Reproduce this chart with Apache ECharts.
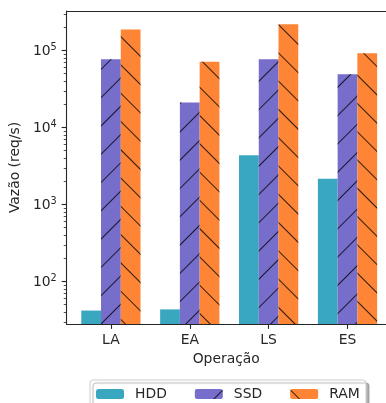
<!DOCTYPE html>
<html>
<head>
<meta charset="utf-8">
<style>
  html, body { margin: 0; padding: 0; background: #fff; }
  #chart { width: 386px; height: 403px; }
</style>
<script src="https://cdn.jsdelivr.net/npm/echarts@6/dist/echarts.min.js"></script>
</head>
<body>
<div id="chart"></div>
<script>
// dados (vazão em req/s, escala log)
var categories = ["LA", "EA", "LS", "ES"];
var hddValues = [42, 43.5, 4350, 2160];
var ssdValues = [76900, 21200, 76900, 49100];
var ramValues = [188000, 71600, 219000, 92000];
var majorTicks = [100, 1000, 10000, 100000];
var catPositions = [0, 1, 2, 3];

var yMin = 28.1;
var yMax = 326000;

// eixo x: 79px por categoria, a figura original está cortada à direita
var xMin = -0.5625;
var xMax = xMin + 320 / 79;

var font = "DejaVu Sans";
var textColor = "#262626";
var lineColor = "#262626";

// ticks menores 2..9 x 10^k
var minorTicks = [];
for (var k = 1; k <= 5; k++) {
  for (var m = 2; m <= 9; m++) {
    var t = m * Math.pow(10, k);
    if (t >= yMin && t <= yMax) minorTicks.push(t);
  }
}

function toPoints(vals) {
  return catPositions.map(function(x, i) {
    return [x, vals[i]];
  });
}

function hatch(rot) {
  return {
    symbol: "rect",
    symbolSize: 1,
    color: "rgba(0,0,0,0.8)",
    dashArrayX: [1, 0],
    dashArrayY: [0.9, 18.7],
    rotation: rot
  };
}

var chart = echarts.init(document.getElementById("chart"), null, { renderer: "canvas" });

var option = {
  animation: false,
  textStyle: { fontFamily: font },
  grid: {
    left: 66,
    top: 11,
    right: 0,
    height: 313,
    show: false
  },
  // moldura da legenda
  graphic: {
    elements: [
      {
        type: "rect",
        z: 1,
        x: 90,
        y: 380,
        shape: { x: 0, y: 0, width: 276, height: 30, r: 3 },
        style: {
          fill: "#fff",
          stroke: "#cccccc",
          lineWidth: 1,
          shadowColor: "rgba(0,0,0,0.3)",
          shadowBlur: 1,
          shadowOffsetX: 3,
          shadowOffsetY: 3
        }
      }
    ]
  },
  legend: {
    data: ["HDD", "SSD", "RAM"],
    left: 89,
    top: 380,
    z: 5,
    orient: "horizontal",
    itemWidth: 28,
    itemHeight: 10,
    itemGap: 28,
    padding: [7, 7, 7, 7],
    borderWidth: 0,
    backgroundColor: "transparent",
    textStyle: {
      fontFamily: font,
      fontSize: 13.9,
      color: textColor,
      padding: [0, 0, 0, 6]
    }
  },
  xAxis: [
    {
      type: "value",
      min: xMin,
      max: xMax,
      name: "Operação",
      nameLocation: "middle",
      nameGap: 27,
      nameTextStyle: { fontFamily: font, fontSize: 13.9, color: textColor },
      splitLine: { show: false },
      axisLine: { show: true, onZero: false, lineStyle: { color: lineColor, width: 1.1 } },
      axisTick: {
        show: true,
        customValues: catPositions,
        length: 4.9,
        lineStyle: { color: lineColor, width: 1.1 }
      },
      axisLabel: {
        customValues: catPositions,
        margin: 9.8,
        fontFamily: font,
        fontSize: 13.9,
        color: textColor,
        formatter: function(v) {
          return categories[Math.round(v)];
        }
      }
    },
    {
      // espinha superior
      type: "value",
      position: "top",
      min: xMin,
      max: xMax,
      splitLine: { show: false },
      axisLine: { show: true, onZero: false, lineStyle: { color: lineColor, width: 1.1 } },
      axisTick: { show: false },
      axisLabel: { show: false }
    }
  ],
  yAxis: [
    {
      type: "log",
      min: yMin,
      max: yMax,
      name: "Vazão (req/s)",
      nameLocation: "middle",
      nameGap: 41,
      nameTextStyle: { fontFamily: font, fontSize: 13.9, color: textColor },
      splitLine: { show: false },
      axisLine: { show: true, onZero: false, lineStyle: { color: lineColor, width: 1.1 } },
      axisTick: {
        show: true,
        customValues: majorTicks,
        length: 4.9,
        lineStyle: { color: lineColor, width: 1.1 }
      },
      axisLabel: {
        customValues: majorTicks,
        margin: 9.8,
        color: textColor,
        formatter: function(v) {
          var e = Math.round(Math.log10(v));
          return "{b|10}{s|" + e + "}";
        },
        rich: {
          b: { fontFamily: font, fontSize: 13.9, color: textColor, lineHeight: 16, verticalAlign: "bottom" },
          s: { fontFamily: font, fontSize: 9.7, color: textColor, lineHeight: 8, verticalAlign: "top" }
        }
      }
    },
    {
      type: "log",
      min: yMin,
      max: yMax,
      position: "left",
      splitLine: { show: false },
      axisLine: { show: false, onZero: false },
      axisLabel: { show: false },
      axisTick: {
        show: true,
        customValues: minorTicks,
        length: 2.8,
        lineStyle: { color: lineColor, width: 0.8 }
      }
    }
  ],
  series: [
    {
      name: "HDD",
      type: "bar",
      xAxisIndex: 0,
      yAxisIndex: 0,
      barWidth: 19.75,
      barGap: "0%",
      itemStyle: { color: "#3AA7C0" },
      data: toPoints(hddValues)
    },
    {
      name: "SSD",
      type: "bar",
      xAxisIndex: 0,
      yAxisIndex: 0,
      barWidth: 19.75,
      barGap: "0%",
      itemStyle: { color: "#776DCB", decal: hatch(-Math.PI / 4) },
      data: toPoints(ssdValues)
    },
    {
      name: "RAM",
      type: "bar",
      xAxisIndex: 0,
      yAxisIndex: 0,
      barWidth: 19.75,
      barGap: "0%",
      itemStyle: { color: "#FD8535", decal: hatch(Math.PI / 4) },
      data: toPoints(ramValues)
    }
  ]
};

chart.setOption(option);
</script>
</body>
</html>
